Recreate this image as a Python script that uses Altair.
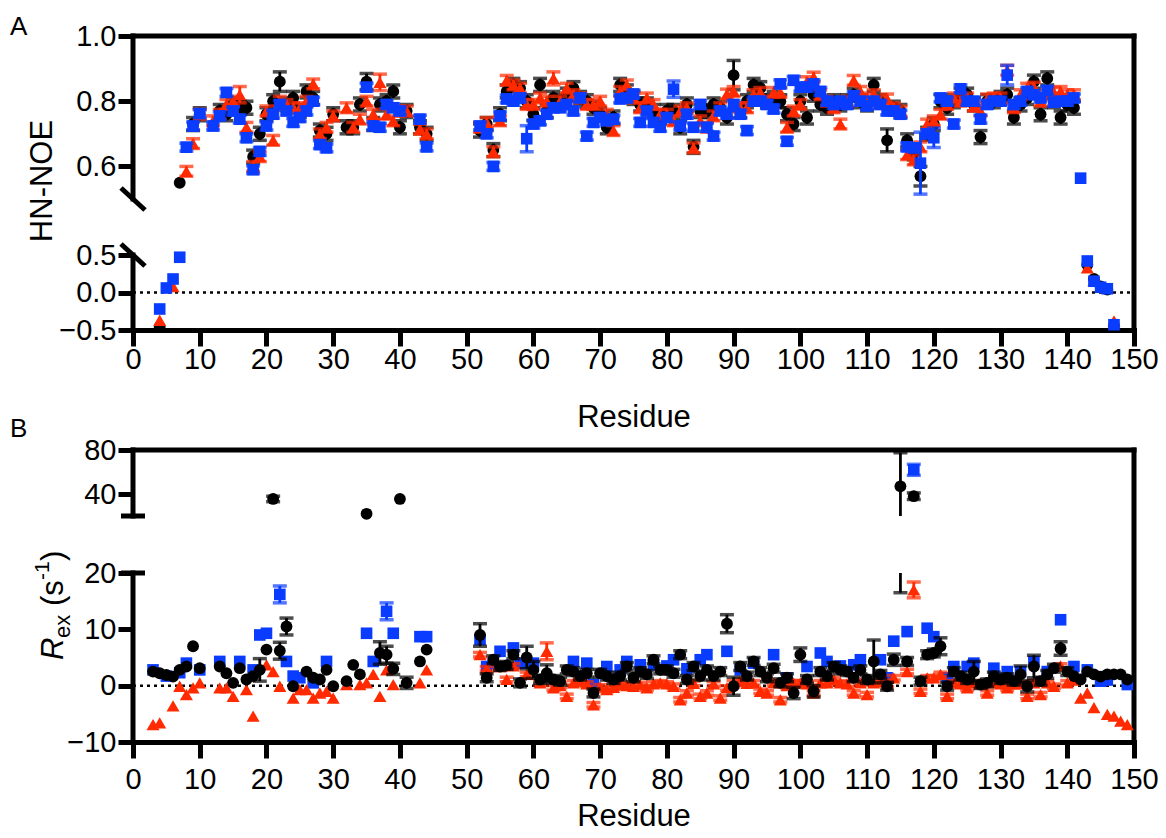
import altair as alt
import pandas as pd

FONT = "Liberation Sans"
BLACK = "#000000"
RED = "#ff2a00"
BLUE = "#0a3cff"

MID = list(range(52, 142))

# ---------------- Panel A : HN-NOE ----------------
A_BLACK_RES = [4, 7, 9, 10, 13, 14, 15, 16, 17, 18, 19, 20, 21, 22, 23, 24, 25, 26, 27, 28, 29, 30,
               32, 33, 34, 35, 36, 37, 38, 39, 40, 41, 43, 44] + MID + [143, 144, 145, 146, 147]
A_BLACK = [-0.46, 0.55, 0.73, 0.76, 0.77, 0.76, 0.79, 0.78, 0.78, 0.63, 0.70, 0.76, 0.80, 0.86, 0.79, 0.81,
           0.77, 0.83, 0.81, 0.71, 0.70, 0.76, 0.72, 0.72, 0.79, 0.86, 0.73, 0.79, 0.80, 0.83, 0.72, 0.77,
           0.72, 0.70,
           0.71, 0.73, 0.65, 0.76, 0.83, 0.85, 0.84, 0.80, 0.76, 0.85,
           0.77, 0.81, 0.80, 0.82, 0.84, 0.81, 0.80, 0.78, 0.76, 0.72,
           0.75, 0.85, 0.83, 0.81, 0.79, 0.79, 0.77, 0.75, 0.77, 0.77,
           0.72, 0.79, 0.66, 0.77, 0.77, 0.79, 0.78, 0.75, 0.88, 0.77,
           0.80, 0.85, 0.84, 0.80, 0.81, 0.80, 0.76, 0.73, 0.80, 0.75,
           0.82, 0.79, 0.78, 0.80, 0.79, 0.80, 0.82, 0.80, 0.79, 0.85,
           0.80, 0.68, 0.78, 0.77, 0.68, 0.64, 0.57, 0.70, 0.73, 0.80,
           0.78, 0.80, 0.82, 0.82, 0.79, 0.69, 0.80, 0.80, 0.81, 0.82,
           0.75, 0.79, 0.81, 0.86, 0.76, 0.87, 0.80, 0.75, 0.79, 0.78,
           0.37, 0.18, 0.08, 0.04, -0.44]
A_BLACK_ERR = 0.02
A_BLACK_ERR_SPECIAL = {22: 0.03, 35: 0.025, 90: 0.045, 113: 0.035, 118: 0.03}

A_RED_RES = [4, 6, 8, 9, 10, 12, 13, 14, 15, 16, 17, 18, 19, 20, 21, 22, 23, 24, 25, 26, 27, 28, 29, 30,
             32, 33, 34, 35, 36, 37, 38, 39, 40, 41, 43, 44] + MID + [143, 144, 147]
A_RED = [-0.37, 0.08, 0.585, 0.67, 0.76, 0.74, 0.76, 0.79, 0.80, 0.82, 0.72, 0.60, 0.63, 0.77, 0.68, 0.80,
         0.79, 0.78, 0.78, 0.80, 0.853, 0.70, 0.72, 0.755, 0.78, 0.72, 0.745, 0.80, 0.76, 0.858, 0.76, 0.74,
         0.77, 0.77, 0.714, 0.70,
         0.72, 0.735, 0.645, 0.74, 0.864, 0.85, 0.84, 0.79, 0.79, 0.81,
         0.80, 0.87, 0.80, 0.84, 0.82, 0.81, 0.79, 0.79, 0.80, 0.76,
         0.71, 0.83, 0.85, 0.81, 0.78, 0.81, 0.79, 0.76, 0.76, 0.74,
         0.77, 0.78, 0.657, 0.74, 0.72, 0.755, 0.78, 0.822, 0.83, 0.78,
         0.78, 0.82, 0.827, 0.80, 0.827, 0.827, 0.72, 0.77, 0.79, 0.86,
         0.874, 0.82, 0.80, 0.78, 0.73, 0.80, 0.864, 0.83, 0.81, 0.82,
         0.80, 0.807, 0.78, 0.77, 0.636, 0.62, 0.66, 0.73, 0.74, 0.76,
         0.79, 0.81, 0.80, 0.81, 0.785, 0.77, 0.807, 0.81, 0.81, 0.895,
         0.78, 0.82, 0.84, 0.843, 0.80, 0.82, 0.827, 0.83, 0.82, 0.82,
         0.33, 0.16, -0.38]
A_RED_ERR = 0.015
A_RED_ERR_SPECIAL = {16: 0.025, 37: 0.025, 63: 0.02}

A_BLUE_RES = [4, 5, 6, 7, 8, 9, 10, 12, 13, 14, 15, 16, 17, 18, 19, 20, 21, 22, 23, 24, 25, 26, 27, 28, 29,
              35, 36, 37, 38, 39, 40, 43, 44] + MID + [142, 143, 144, 145, 146, 147]
A_BLUE = [-0.22, 0.06, 0.18, 0.47, 0.659, 0.724, 0.762, 0.724, 0.755, 0.827, 0.77, 0.745, 0.688, 0.59, 0.646,
          0.724, 0.76, 0.79, 0.77, 0.735, 0.75, 0.77, 0.80, 0.667, 0.657, 0.843, 0.724, 0.72, 0.79, 0.78, 0.77,
          0.745, 0.66,
          0.724, 0.70, 0.60, 0.755, 0.807, 0.80, 0.81, 0.685, 0.73, 0.74,
          0.76, 0.78, 0.78, 0.79, 0.77, 0.81, 0.693, 0.735, 0.75, 0.74,
          0.745, 0.807, 0.81, 0.822, 0.735, 0.77, 0.735, 0.72, 0.75, 0.837,
          0.724, 0.76, 0.72, 0.79, 0.72, 0.693, 0.77, 0.76, 0.79, 0.76,
          0.71, 0.80, 0.80, 0.79, 0.776, 0.853, 0.677, 0.864, 0.843, 0.843,
          0.853, 0.83, 0.80, 0.79, 0.80, 0.79, 0.817, 0.80, 0.786, 0.80,
          0.79, 0.77, 0.77, 0.76, 0.66, 0.657, 0.61, 0.70, 0.688, 0.81,
          0.80, 0.73, 0.838, 0.80, 0.80, 0.745, 0.79, 0.80, 0.80, 0.88,
          0.79, 0.80, 0.83, 0.82, 0.81, 0.833, 0.797, 0.80, 0.80, 0.81,
          0.564, 0.42, 0.15, 0.07, 0.05, -0.43]
A_BLUE_ERR = 0.012
A_BLUE_ERR_SPECIAL = {59: 0.04, 81: 0.025, 118: 0.095, 120: 0.03, 131: 0.03}

# ---------------- Panel B : Rex ----------------
B_BLACK_RES = [3, 4, 5, 6, 7, 8, 9, 10, 13, 14, 15, 16, 17, 18, 19, 20, 21, 22, 23, 24, 26, 27, 28, 29, 30,
               32, 33, 34, 35, 37, 38, 39, 40, 41, 43, 44] + list(range(52, 150))
B_BLACK = [2.5, 2.2, 1.9, 1.6, 2.8, 3.4, 7.0, 3.1, 3.4, 2.2, 0.5, 3.1, 1.1, 1.7, 2.8, 6.4, 35.5, 6.2, 10.5,
           -0.1, 2.5, 1.4, 1.1, 2.8, -0.1, 0.8, 3.7, 2.0, 22.0, 5.8, 5.5, 3.0, 35.5, 0.5, 4.3, 6.4,
           9.0, 1.4, 4.6, 3.4, 3.6, 5.5, 0.5, 5.0, 2.8, 1.1,
           2.2, 1.1, 0.8, 2.8, 2.5, 1.7, 2.2, -1.3, 2.2, 1.7,
           1.1, 1.7, 3.4, 1.4, 2.5, 2.0, 4.6, 2.8, 2.8, 2.2,
           5.5, 1.1, 3.4, 1.7, 2.8, 1.7, 2.5, 11.0, -0.1, 3.4,
           1.7, 4.3, 2.5, 1.4, 3.1, 0.5, 1.4, -1.3, 5.5, 1.1,
           -1.0, 2.5, 1.7, 3.4, 2.8, 2.5, 1.4, 2.8, 1.1, 4.3,
           2.0, -0.1, 4.6, 47.0, 4.3, 38.0, 0.8, 5.5, 5.8, 7.0,
           -0.1, 2.5, 1.7, 1.1, 2.5, 0.2, 0.5, 1.7, 1.1, 1.4,
           0.8, 2.0, -0.1, 3.4, 0.8, 2.0, 3.1, 6.6, 2.5, 1.7,
           1.1, 2.5, 2.0, 1.6, 2.0, 2.0, 2.0, 1.1]
B_BLACK_ERR = 0.7
B_BLACK_ERR_SPECIAL = {19: 2.0, 21: 2.5, 22: 1.5, 23: 1.5, 37: 2.0, 38: 1.5, 39: 1.0, 41: 1.0, 52: 2.0,
                       59: 2.0, 60: 1.5, 62: 1.5, 89: 1.6, 90: 1.6, 99: 1.0, 100: 1.2, 102: 1.0, 111: 3.8,
                       114: 1.0, 115: 30.5, 117: 3.0, 121: 1.5, 126: 1.8, 133: 1.5, 134: 1.0, 135: 2.0,
                       139: 1.2}

B_RED_RES = [3, 4, 6, 7, 8, 9, 10, 13, 14, 15, 17, 18, 20, 21, 22, 24, 25, 26, 27, 28, 29, 30, 32, 34, 35,
             36, 37, 38, 39, 43, 44, 52, 53, 55, 56, 57, 59] + list(range(61, 115)) + \
            list(range(116, 145)) + [146, 147, 148, 149]
B_RED = [-6.9, -6.6, -3.6, -0.1, -1.6, -0.4, 0.5, -0.4, -0.4, -1.9, -0.7, -5.4, 3.7, 2.5, -0.1, -2.2, -0.7,
         -0.7, -2.2, -1.3, -1.0, -2.2, 0.2, 0.2, 0.5, 2.0, -1.9, 2.8, 0.2, 0.5, 2.8,
         5.5, 3.0, 3.4, 1.1, 3.5, 2.0,
         0.5, 6.1, -0.4, 0.0, -1.9, 0.5, 0.8, 0.3, -3.4, -0.2,
         -0.7, -0.3, 0.2, 0.0, -0.1, 0.2, -0.4, 0.3, 0.5, 0.3,
         -0.1, -2.5, -1.3, 0.4, -1.9, -1.3, 0.3, -2.2, -0.4, 0.5,
         0.8, 0.4, 0.5, -1.0, -1.3, 0.5, -2.5, 0.0, 0.5, 0.5,
         0.3, -1.3, 0.5, 0.5, 1.1, 0.5, 0.3, -1.3, 0.5, -1.6,
         0.5, 0.7, 0.2, 1.4,
         2.5, 17.0, -1.0, 1.4, 1.4, 2.0, -1.9, 0.5, 0.3, -0.4,
         0.5, 0.3, -1.3, 0.5, 0.3, -0.4, 0.3, 0.3, -1.9, 0.5,
         -1.6, 0.5, -0.1, 3.5, 0.5, 1.0, -2.2, -1.3, -3.9,
         -5.1, -5.4, -6.3, -6.9]
B_RED_ERR = 0.4
B_RED_ERR_SPECIAL = {62: 1.5, 117: 1.4}

B_BLUE_RES = [3, 5, 7, 8, 10, 13, 16, 18, 19, 20, 22, 23, 24, 25, 27, 29, 35, 36, 38, 39, 43, 44, 52, 53,
              54, 55, 57, 58, 60, 66, 68, 69, 71, 73, 74, 76, 78, 80, 81, 83, 85, 86, 89, 91, 93, 96, 98,
              101, 103, 104, 106, 108, 109, 112, 113, 114, 116, 117, 119, 120, 122, 123, 125, 126, 129,
              131, 133, 135, 137, 139, 141, 143, 145, 146, 149]
B_BLUE = [2.8, 1.7, 2.3, 4.0, 2.8, 4.3, 4.3, 2.8, 9.0, 9.3, 16.2, 4.3, 1.7, 1.4, 0.5, 4.3, 9.3, 4.3, 13.2,
          9.3, 8.7, 8.7, 8.2, 3.4, 4.0, 6.1, 6.7, 4.0, 4.0, 4.3, 4.0, 0.2, 3.4, 2.8, 4.3, 3.7, 3.7, 3.5,
          4.6, 3.0, 4.6, 5.5, 6.1, 2.8, 4.0, 5.5, 1.4, 3.4, 5.8, 4.3, 3.5, 3.7, 4.6, 4.6, 1.4, 7.9, 9.6,
          62.0, 10.2, 8.7, 1.4, 3.4, 3.4, 4.0, 3.1, 2.5, 2.5, 4.3, 2.5, 11.7, 3.4, 2.8, 0.8, 1.0, 0.2]
B_BLUE_ERR = 0.0
B_BLUE_ERR_SPECIAL = {22: 1.5, 38: 1.5, 117: 5.0}

A_TICKS = [-0.5, 0.0, 0.5, 0.6, 0.8, 1.0]
B_TICKS = [-10, 0, 10, 20, 40, 80]
X_TICKS = list(range(0, 151, 10))

# plot area: 1001 x 706 px, panel A occupies the top 294 px, panel B the bottom 292 px
XS = alt.Scale(domain=[0, 150], nice=False, zero=False)
YS_A = alt.Scale(domain=[-0.5, 0.5, 0.5001, 1.0], range=[294, 219, 163, 0], nice=False, zero=False)
YS_B = alt.Scale(domain=[-10, 20, 20.001, 80], range=[706, 537, 480, 414], nice=False, zero=False)


def build(res, vals, err_typ, err_rng, special, brk=None):
    pts, segs, caps = [], [], []
    for r, v in zip(res, vals):
        pts.append({"res": r, "val": v})
        e = special.get(r, err_typ if err_rng[0] <= r <= err_rng[1] else 0.0)
        if e > 0:
            lo, hi = v - e, v + e
            caps += [{"res": r, "val": lo}, {"res": r, "val": hi}]
            if brk is not None and lo < brk[0] < hi:
                segs += [{"res": r, "lo": lo, "hi": brk[0]}, {"res": r, "lo": brk[1], "hi": hi}]
            else:
                segs.append({"res": r, "lo": lo, "hi": hi})
    cols = lambda d, c: pd.DataFrame(d, columns=c)
    return cols(pts, ["res", "val"]), cols(segs, ["res", "lo", "hi"]), cols(caps, ["res", "val"])


def yaxis(values, fmt):
    return alt.Axis(values=values, format=fmt, orient="left", domain=False, grid=False, ticks=True,
                    tickSize=15, tickWidth=5, tickColor=BLACK, labelFont=FONT, labelFontSize=29,
                    labelColor=BLACK, labelPadding=2, labelOverlap=False, title=None)


def xaxis(offset, lab_pad, title_y):
    return alt.Axis(values=X_TICKS, orient="bottom", offset=offset, domain=True, domainColor=BLACK,
                    domainWidth=5, domainCap="square", grid=False, tickSize=16, tickWidth=5,
                    tickColor=BLACK, labelFont=FONT, labelFontSize=29, labelColor=BLACK,
                    labelPadding=lab_pad, labelFlush=False, labelOverlap=False, title="Residue",
                    titleFont=FONT, titleFontSize=31, titleFontWeight="normal", titleColor=BLACK,
                    titleY=title_y, titleBaseline="top")


AX_XA, AX_YA = xaxis(-412, -1, 72), yaxis(A_TICKS, ".1f")
AX_XB, AX_YB = xaxis(0, 7, 59), yaxis(B_TICKS, "d")


def series(pts, segs, caps, color, shape, size, ys, xax, yax):
    x = alt.X("res:Q", scale=XS, axis=xax)
    err = alt.Chart(segs).mark_rule(color=color, strokeWidth=2.8).encode(
        x=x, y=alt.Y("lo:Q", scale=ys, axis=yax), y2="hi:Q")
    cap = alt.Chart(caps).mark_tick(color=color, orient="horizontal", size=14, thickness=3.5).encode(
        x=x, y=alt.Y("val:Q", scale=ys, axis=yax))
    pt = alt.Chart(pts).mark_point(filled=True, shape=shape, size=size, color=color, opacity=1).encode(
        x=x, y=alt.Y("val:Q", scale=ys, axis=yax))
    return [err, cap, pt]


ONE = pd.DataFrame({"k": [0]})


def frame(ys, xax, yax, lo, hi, brk_lo, brk_hi):
    rule = lambda **kw: alt.Chart(ONE).mark_rule(color=BLACK, strokeWidth=5, strokeCap="square", **kw)
    yd = lambda v: alt.Y(datum=v, scale=ys, axis=yax)
    xd = lambda v: alt.X(datum=v, scale=XS, axis=xax)
    return [
        rule().encode(x=xd(0), x2=alt.X2(datum=150), y=yd(hi)),               # top
        rule().encode(x=xd(150), y=yd(lo), y2=alt.Y2(datum=hi)),               # right
        rule().encode(x=xd(0), y=yd(lo), y2=alt.Y2(datum=brk_lo)),             # left, lower part
        rule().encode(x=xd(0), y=yd(brk_hi), y2=alt.Y2(datum=hi)),             # left, upper part
        alt.Chart(ONE).mark_rule(color=BLACK, strokeWidth=2.5, strokeDash=[3, 4]).encode(
            x=xd(0), x2=alt.X2(datum=150), y=yd(0)),                           # zero line
    ]


# ---- Panel A layers ----
a_blk = build(A_BLACK_RES, A_BLACK, A_BLACK_ERR, (8, 141), A_BLACK_ERR_SPECIAL)
a_red = build(A_RED_RES, A_RED, A_RED_ERR, (8, 141), A_RED_ERR_SPECIAL)
a_blu = build(A_BLUE_RES, A_BLUE, A_BLUE_ERR, (8, 141), A_BLUE_ERR_SPECIAL)

brkA = [alt.Chart(ONE).mark_rule(color=BLACK, strokeWidth=5, yOffset=-11, y2Offset=11).encode(
            x=alt.value(-12), x2=alt.value(12),
            y=alt.Y(datum=v, scale=YS_A, axis=AX_YA), y2=alt.Y2(datum=v)) for v in (0.5, 0.5001)]

layerA = alt.layer(
    *frame(YS_A, AX_XA, AX_YA, -0.5, 1.0, 0.5, 0.5001), *brkA,
    *series(*a_blk, BLACK, "circle", 140, YS_A, AX_XA, AX_YA),
    *series(*a_red, RED, "triangle-up", 170, YS_A, AX_XA, AX_YA),
    *series(*a_blu, BLUE, "square", 135, YS_A, AX_XA, AX_YA),
)

# ---- Panel B layers ----
b_blk = build(B_BLACK_RES, B_BLACK, B_BLACK_ERR, (52, 140), B_BLACK_ERR_SPECIAL, brk=(20, 20.001))
b_red = build(B_RED_RES, B_RED, B_RED_ERR, (52, 140), B_RED_ERR_SPECIAL, brk=(20, 20.001))
b_blu = build(B_BLUE_RES, B_BLUE, B_BLUE_ERR, (52, 140), B_BLUE_ERR_SPECIAL, brk=(20, 20.001))

brkB = [alt.Chart(ONE).mark_rule(color=BLACK, strokeWidth=5).encode(
            x=alt.value(-12), x2=alt.value(12),
            y=alt.Y(datum=v, scale=YS_B, axis=AX_YB)) for v in (20, 20.001)]

layerB = alt.layer(
    *frame(YS_B, AX_XB, AX_YB, -10, 80, 20, 20.001), *brkB,
    *series(*b_blu, BLUE, "square", 135, YS_B, AX_XB, AX_YB),
    *series(*b_red, RED, "triangle-up", 170, YS_B, AX_XB, AX_YB),
    *series(*b_blk, BLACK, "circle", 140, YS_B, AX_XB, AX_YB),
)


def txt(text, x, y, size, angle=0, align="left", style="normal"):
    return alt.Chart(ONE).mark_text(text=text, font=FONT, fontSize=size, fontStyle=style, angle=angle,
                                    align=align, baseline="alphabetic", color=BLACK).encode(
        x=alt.value(x), y=alt.value(y))


texts = [
    txt("A", -123, -1, 26),
    txt("B", -123, 401, 26),
    txt("HN-NOE", -81, 145, 31, angle=270, align="center"),
    txt("R", -70, 624, 31, angle=270, style="italic"),
    txt("ex", -63, 602, 22, angle=270),
    txt("(s", -70, 570, 31, angle=270),
    txt("-1", -84, 544, 21, angle=270),
    txt(")", -70, 525, 31, angle=270),
]

chart = alt.layer(layerA, layerB, *texts).resolve_scale(
    x="independent", y="independent"
).properties(
    width=1001, height=706,
    autosize=alt.AutoSizeParams(type="none"),
    padding={"left": 133, "top": 36, "right": 25, "bottom": 94},
).configure_view(stroke=None)

chart.save("out.html", embed_options={"renderer": "svg", "actions": False})
